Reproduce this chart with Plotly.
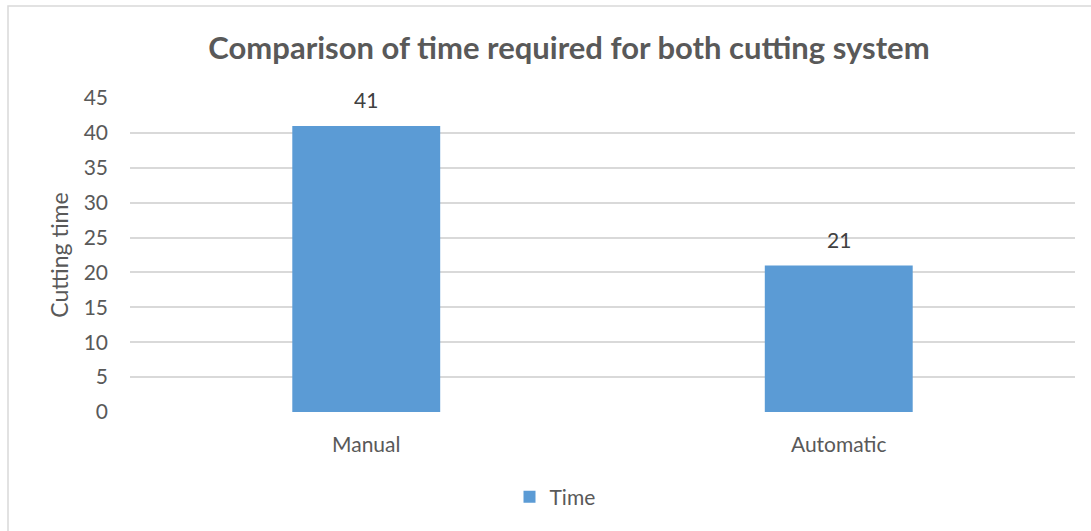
import plotly.graph_objects as go

categories = ["Manual", "Automatic"]
time_values = [41, 21]
series_name = "Time"
y_ticks = [0, 5, 10, 15, 20, 25, 30, 35, 40, 45]

W, H = 1091, 531
L, R, T, B = 130, 16, 98, 119
pw, ph = W - L - R, H - T - B

text_color = "#595959"
font_family = "Lato, 'Open Sans', sans-serif"

fig = go.Figure()
fig.add_trace(go.Bar(
    x=categories, y=time_values, name=series_name,
    marker=dict(color="#5B9BD5", line=dict(width=0)),
    showlegend=True,
))

for c, v in zip(categories, time_values):
    fig.add_annotation(x=c, y=v, text=str(v), showarrow=False,
                       yanchor="middle", yshift=26,
                       font=dict(size=21, color="#404040", family=font_family))

# chart border
def px_x(x):
    return (x - L) / pw
def px_y(y):
    return (H - B - y) / ph

fig.add_shape(type="rect", xref="paper", yref="paper",
              x0=px_x(8), x1=px_x(1100), y0=px_y(540), y1=px_y(6),
              line=dict(color="#D9D9D9", width=1.5), fillcolor="rgba(0,0,0,0)",
              layer="below")

fig.update_layout(
    width=W, height=H,
    margin=dict(l=L, r=R, t=T, b=B, pad=0),
    paper_bgcolor="white", plot_bgcolor="white",
    font=dict(family=font_family, color=text_color, size=21),
    title=dict(text="<b>Comparison of time required for both cutting system</b>",
               x=569 / W, xref="container", xanchor="center",
               y=1 - 48 / H, yref="container", yanchor="middle",
               font=dict(size=31, color=text_color, family=font_family)),
    bargap=0.687,
    xaxis=dict(showgrid=False, showline=False, zeroline=False,
               tickfont=dict(size=21, color=text_color),
               ticklabelstandoff=18),
    yaxis=dict(range=[0, 45], tickvals=y_ticks, showgrid=True,
               gridcolor="#D9D9D9", gridwidth=1.5, zeroline=False,
               showline=False,
               tickfont=dict(size=21, color=text_color),
               ticklabelstandoff=21,
               title=dict(text="Cutting time", standoff=8,
                          font=dict(size=23, color=text_color))),
    legend=dict(orientation="h", x=px_x(555), xanchor="center",
                y=px_y(497), yanchor="middle",
                font=dict(size=21, color=text_color),
                itemwidth=30),
)

fig.write_html("out.html")
